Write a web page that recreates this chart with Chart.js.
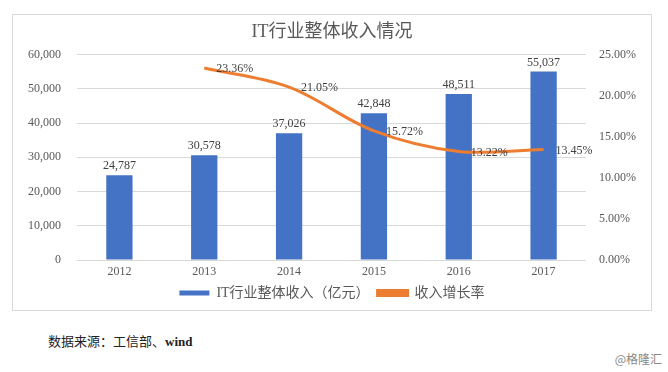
<!DOCTYPE html>
<html>
<head>
<meta charset="utf-8">
<script src="https://cdn.jsdelivr.net/npm/chart.js@4"></script>
<style>
    body { margin: 0; background: #fff; width: 668px; height: 372px; position: relative; overflow: hidden; }
    #frame { position: absolute; left: 12px; top: 14px; width: 638px; height: 295px; border: 1px solid #d9d9d9; }
    #source { position: absolute; left: 48px; top: 331px; font: 13px "Liberation Serif", "Noto Sans CJK SC", serif; color: #222; }
    #source b { font-weight: bold; }
    #mark { position: absolute; right: 6px; top: 350px; font: 12px "Noto Sans CJK SC", sans-serif; color: #888; }
</style>
</head>
<body>
<div id="frame"><canvas id="myChart" width="638" height="295"></canvas></div>
<div id="source">数据来源：工信部、<b>wind</b></div>
<div id="mark">@格隆汇</div>
<script>
const years = ['2012', '2013', '2014', '2015', '2016', '2017'];
const revenue = [24787, 30578, 37026, 42848, 48511, 55037];
const growth = [null, 23.36, 21.05, 15.72, 13.22, 13.45];

const serif = '"Liberation Serif", "Noto Sans CJK SC", serif';

// value labels on bars and line points
const labelPlugin = {
    id: 'labels',
    afterDatasetsDraw(chart) {
        const ctx = chart.ctx;
        ctx.save();
        ctx.font = '12px ' + serif;
        ctx.fillStyle = '#404040';
        chart.getDatasetMeta(0).data.forEach((bar, i) => {
            ctx.textAlign = 'center';
            ctx.textBaseline = 'bottom';
            ctx.fillText(revenue[i].toLocaleString('en-US'), bar.x, bar.y - 3);
        });
        chart.getDatasetMeta(1).data.forEach((pt, i) => {
            if (growth[i] === null) return;
            ctx.textAlign = 'left';
            ctx.textBaseline = 'middle';
            ctx.fillText(growth[i].toFixed(2) + '%', pt.x + 12, pt.y + 1);
        });
        ctx.restore();
    }
};

const ctx = document.getElementById('myChart').getContext('2d');
new Chart(ctx, {
    data: {
        labels: years,
        datasets: [
            {
                type: 'bar',
                label: 'IT行业整体收入（亿元）',
                data: revenue,
                backgroundColor: '#4472C4',
                barPercentage: 0.31,
                categoryPercentage: 1,
                yAxisID: 'y',
                order: 2,
            },
            {
                type: 'line',
                label: '收入增长率',
                data: growth,
                borderColor: '#ED7D31',
                backgroundColor: '#ED7D31',
                borderWidth: 3,
                tension: 0.35,
                pointRadius: 0,
                yAxisID: 'y1',
                order: 1,
            },
        ],
    },
    options: {
        responsive: false,
        animation: false,
        layout: { padding: { top: 0, right: 0, bottom: 0, left: 0 } },
        plugins: {
            title: {
                display: true,
                text: 'IT行业整体收入情况',
                color: '#595959',
                font: { family: serif, size: 18, weight: 'normal' },
                padding: { top: 6, bottom: 12 },
            },
            legend: {
                position: 'bottom',
                labels: {
                    color: '#595959',
                    font: { family: serif, size: 14 },
                    boxWidth: 30,
                    boxHeight: 5,
                    padding: 8,
                    sort: (a, b) => a.datasetIndex - b.datasetIndex,
                },
            },
            tooltip: { enabled: false },
        },
        scales: {
            x: {
                grid: { display: false, drawTicks: false },
                border: { display: false },
                ticks: { color: '#595959', font: { family: serif, size: 12 }, padding: 5 },
                afterFit: (s) => { s.height = 18; },
            },
            y: {
                position: 'left',
                min: 0,
                max: 60000,
                ticks: {
                    stepSize: 10000,
                    color: '#595959',
                    font: { family: serif, size: 12 },
                    padding: 16,
                    callback: (v) => v.toLocaleString('en-US'),
                },
                grid: { color: '#d9d9d9', drawTicks: false },
                border: { display: false },
                afterFit: (s) => { s.width = 64; },
            },
            y1: {
                position: 'right',
                min: 0,
                max: 25,
                ticks: {
                    stepSize: 5,
                    color: '#595959',
                    font: { family: serif, size: 12 },
                    padding: 5,
                    callback: (v) => v.toFixed(2) + '%',
                },
                grid: { display: false },
                border: { display: false },
                afterFit: (s) => { s.width = 65; },
            },
        },
    },
    plugins: [labelPlugin],
});
</script>
</body>
</html>
